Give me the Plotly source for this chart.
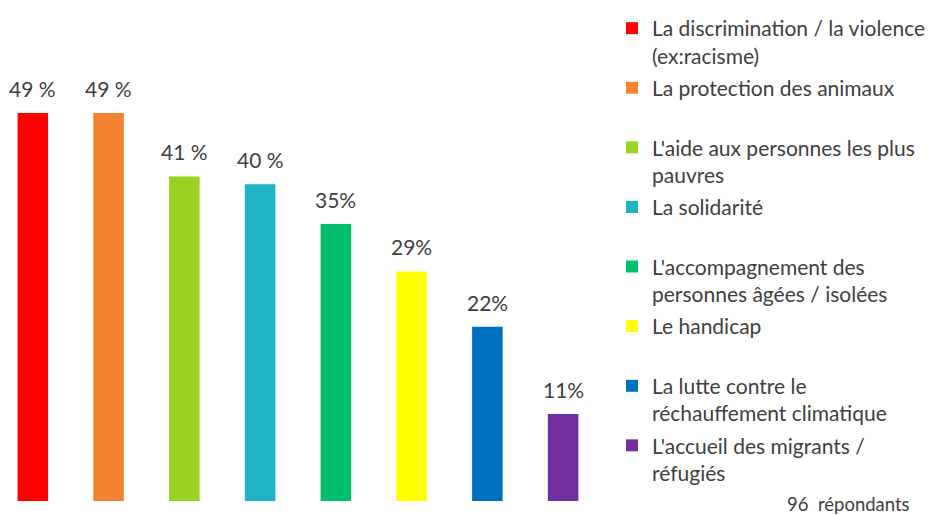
import plotly.graph_objects as go

categories = [
    "La discrimination / la violence<br>(ex:racisme)",
    "La protection des animaux",
    "L'aide aux personnes les plus<br>pauvres",
    "La solidarité",
    "L'accompagnement des<br>personnes âgées / isolées",
    "Le handicap",
    "La lutte contre le<br>réchauffement climatique",
    "L'accueil des migrants /<br>réfugiés",
]
values = [49, 49, 41, 40, 35, 29, 22, 11]
value_labels = ["49 %", "49 %", "41 %", "40 %", "35%", "29%", "22%", "11%"]
colors = ["#FF0000", "#F38331", "#9AD222", "#1EB4C5", "#00BE6E", "#FFFF00", "#0070C0", "#7030A0"]
note = "96  répondants"

FONT = "Lato"
TXT = "#404040"

W, H = 938, 515
plot_w = 592.6
plot_top, plot_bot = 17.5, 492.7

fig = go.Figure()
for i, (cat, val, col) in enumerate(zip(categories, values, colors)):
    name = cat if "<br>" in cat else cat + "<br> "
    fig.add_trace(go.Bar(
        x=[i], y=[val], name=name, marker=dict(color=col, line=dict(width=0)),
        legendgroup=f"g{i}", width=0.403, hoverinfo="skip",
    ))

for i, (val, lab) in enumerate(zip(values, value_labels)):
    fig.add_annotation(x=i, y=val, text=lab, showarrow=False, xref="x", yref="y",
                       xanchor="center", yanchor="bottom", yshift=10,
                       font=dict(family=FONT, size=21, color=TXT))

fig.add_annotation(x=840 / plot_w, y=(plot_bot - 495.5) / (plot_bot - plot_top),
                   xref="paper", yref="paper", text=note, showarrow=False,
                   xanchor="center", yanchor="middle",
                   font=dict(family=FONT, size=18.5, color=TXT))

fig.update_layout(
    width=W, height=H,
    margin=dict(l=0, r=W - plot_w, t=plot_top, b=H - plot_bot, pad=0),
    paper_bgcolor="white", plot_bgcolor="white",
    showlegend=True,
    legend=dict(
        xref="container", yref="container", x=604 / W, y=1.0,
        xanchor="left", yanchor="top", valign="top",
        font=dict(family=FONT, size=21, color=TXT),
        tracegroupgap=2, traceorder="grouped", maxheight=1000,
        bgcolor="rgba(0,0,0,0)", borderwidth=0,
    ),
    xaxis=dict(range=[-0.3276, 7.5], visible=False, fixedrange=True),
    yaxis=dict(range=[0, 60], visible=False, fixedrange=True),
    font=dict(family=FONT, color=TXT),
)

fig.write_html("out.html")
